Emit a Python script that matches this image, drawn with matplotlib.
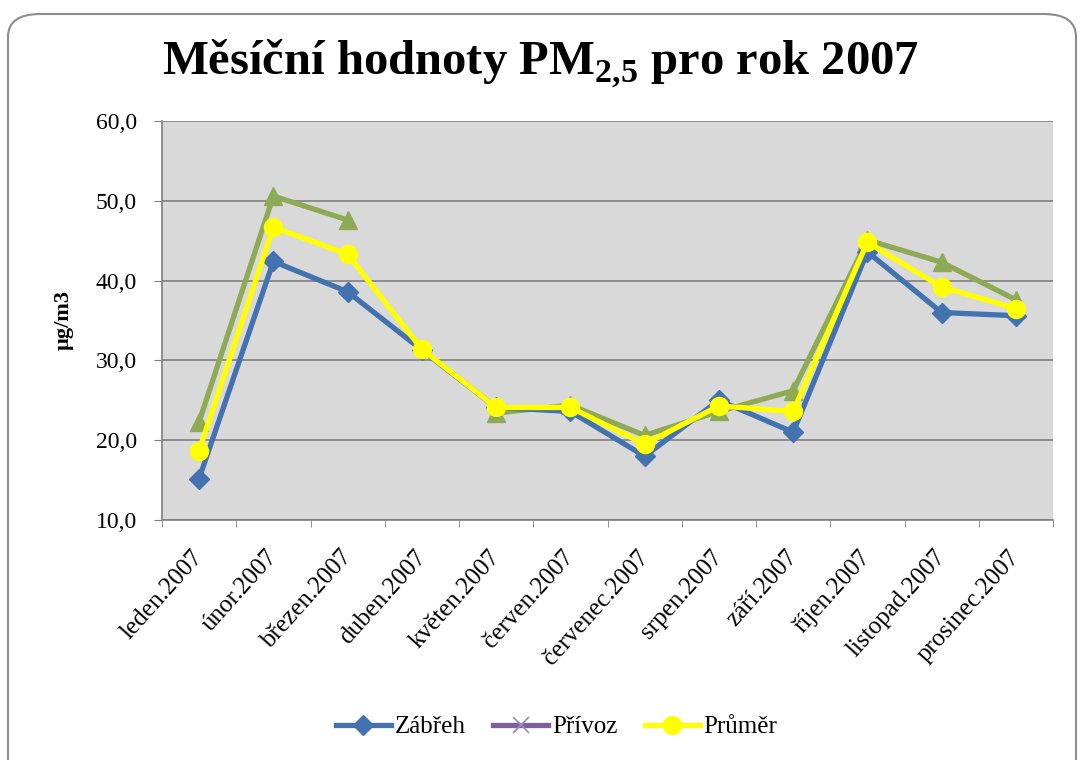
import matplotlib.pyplot as plt
from matplotlib.patches import FancyBboxPatch
from matplotlib.ticker import FixedLocator
from matplotlib.transforms import ScaledTranslation

plt.rcParams['font.family'] = ['Liberation Serif', 'DejaVu Serif']
plt.rcParams['mathtext.fontset'] = 'custom'
plt.rcParams['mathtext.rm'] = 'Liberation Serif'
plt.rcParams['mathtext.bf'] = 'Liberation Serif:bold'

# Monthly PM2.5 values (µg/m3)
mesice = ['leden.2007', 'únor.2007', 'březen.2007', 'duben.2007', 'květen.2007',
          'červen.2007', 'červenec.2007', 'srpen.2007', 'září.2007', 'říjen.2007',
          'listopad.2007', 'prosinec.2007']
zabreh = [15.2, 42.4, 38.6, 31.3, 24.1, 23.6, 18.0, 25.0, 21.0, 43.6, 36.0, 35.6]
privoz = [None] * 12
dalsi = [22.3, 50.6, 47.6, None, 23.4, 24.4, 20.6, 23.6, 26.2, 45.1, 42.3, 37.6]
prumer = [18.7, 46.7, 43.3, 31.4, 24.1, 24.1, 19.5, 24.3, 23.6, 44.8, 39.2, 36.5]

fig = plt.figure(figsize=(10.81, 7.6), dpi=100)

# rounded chart-area frame
frame = FancyBboxPatch((8 / 1081, -0.05), 1068 / 1081, 0.05 + (760 - 14) / 760,
                       boxstyle='round,pad=0,rounding_size=0.03',
                       transform=fig.transFigure, facecolor='none',
                       edgecolor='#8c8c8c', linewidth=1.5, zorder=0)
fig.patches.append(frame)

ax = fig.add_axes([162 / 1081, 1 - 520 / 760, (1053 - 162) / 1081, (520 - 121) / 760])
ax.set_zorder(2)
ax.set_facecolor('#d9d9d9')

x = list(range(len(mesice)))
ax.plot(x, dalsi, color='#8faa55', lw=3.8, marker='^', ms=13, label='_nolegend_', zorder=3)
ax.plot(x, zabreh, color='#4272b0', lw=3.8, marker='D', ms=10, label='Zábřeh', zorder=4)
ax.plot(x, privoz, color='#7f5fa0', lw=3.8, marker='x', ms=12, mew=1.2,
        mec='#9a8ab8', label='Přívoz', zorder=4)
ax.plot(x, prumer, color='#ffff00', lw=3.8, marker='o', ms=13, label='Průměr', zorder=5)

ax.set_ylim(10, 60)
ax.set_yticks(range(10, 61, 10))
ax.set_yticklabels([f'{v:.1f}'.replace('.', ',') for v in range(10, 61, 10)], fontsize=17)
ax.grid(axis='y', color='#7f7f7f', lw=1.2)
ax.set_axisbelow(True)

ax.set_xlim(-0.5, len(mesice) - 0.5)
ax.set_xticks(x)
ax.set_xticklabels(mesice, rotation=48, ha='right', va='center',
                   rotation_mode='anchor', fontsize=18)
shift = ScaledTranslation(14 / 100, 0, fig.dpi_scale_trans)
for lbl in ax.get_xticklabels():
    lbl.set_transform(lbl.get_transform() + shift)
ax.xaxis.set_minor_locator(FixedLocator([i - 0.5 for i in range(len(mesice) + 1)]))
ax.tick_params(axis='x', which='major', length=0, pad=24)
ax.tick_params(axis='x', which='minor', length=5, color='#7f7f7f')
ax.tick_params(axis='y', length=6, color='#7f7f7f', pad=12)

for side in ['top', 'right']:
    ax.spines[side].set_visible(False)
for side in ['left', 'bottom']:
    ax.spines[side].set_color('#7f7f7f')
    ax.spines[side].set_linewidth(1.2)

ax.set_ylabel('µg/m3', fontsize=16, fontweight='bold', labelpad=16)

fig.text(0.5, 1 - 64 / 760, 'Měsíční hodnoty PM$_{\\mathbf{2{,}5}}$ pro rok 2007',
         ha='center', va='center', fontsize=35, fontweight='bold')

fig.legend(loc='center', bbox_to_anchor=(0.515, 1 - 727 / 760), ncol=3, frameon=False,
           fontsize=18, handlelength=2.2, columnspacing=1.1, handletextpad=0.15)

fig.savefig('out.png', dpi=100)
